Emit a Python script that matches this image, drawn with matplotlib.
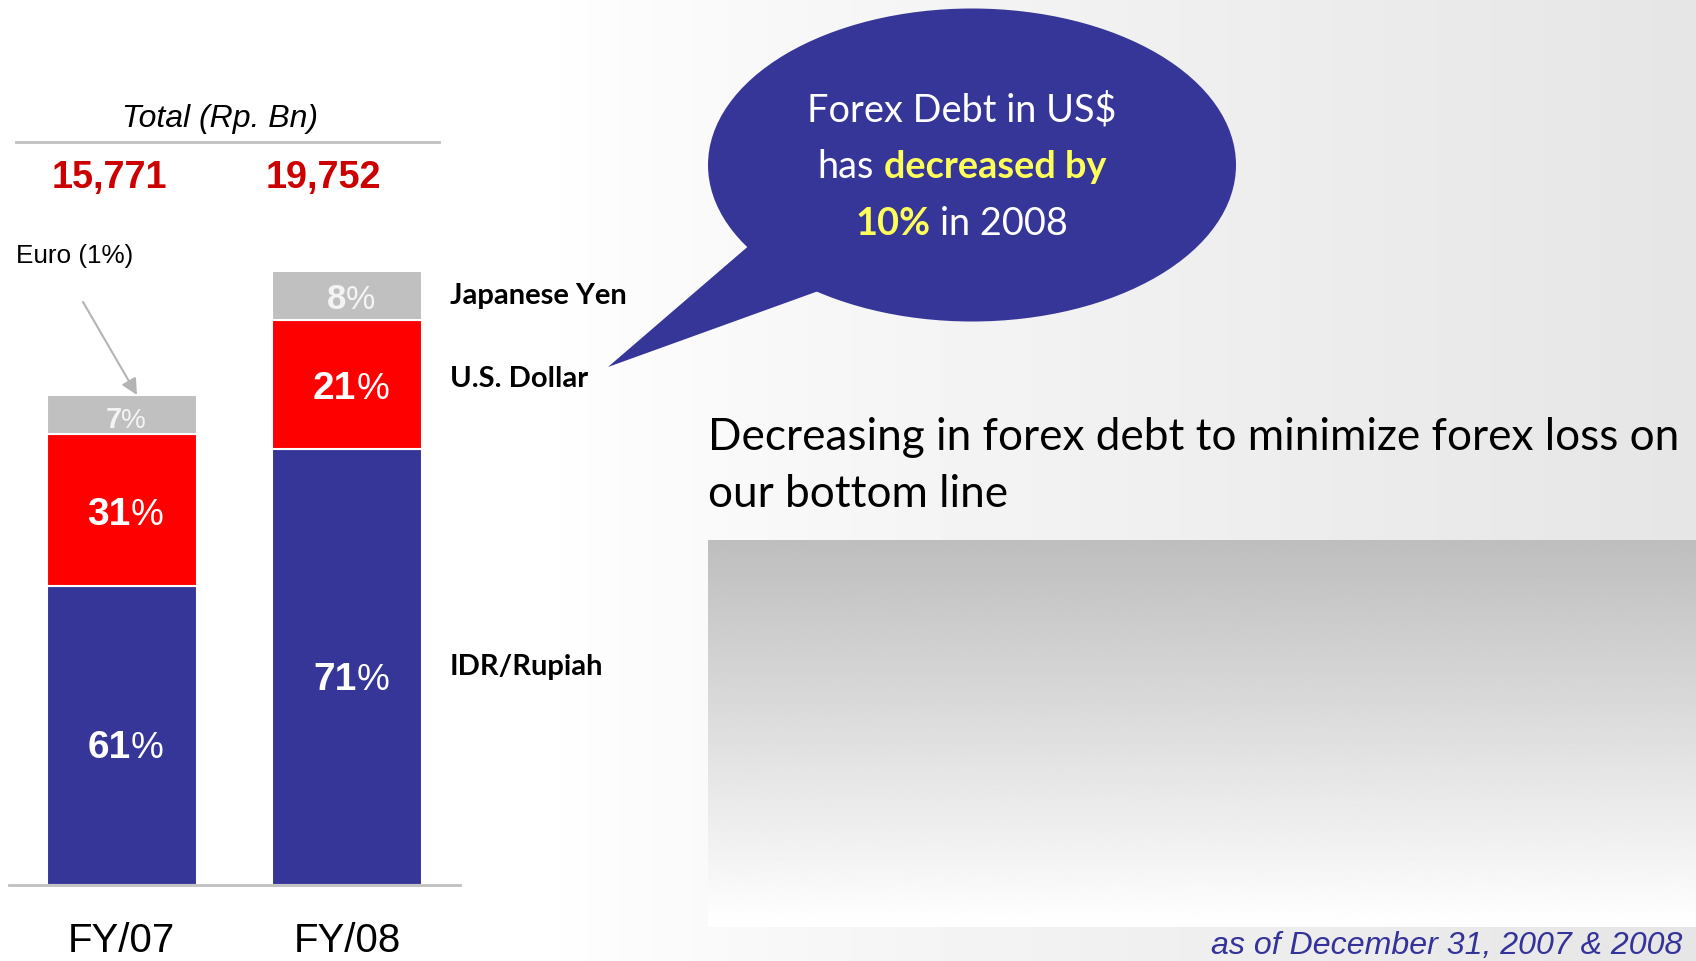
import numpy as np
import matplotlib
matplotlib.use('Agg')
import matplotlib.pyplot as plt
from matplotlib.patches import Ellipse, Polygon

# data
years = ['FY/07', 'FY/08']
totals = [15771, 19752]          # Rp. Bn
idr_pct = [61, 71]
usd_pct = [31, 21]
jpy_pct = [7, 8]
euro_pct = [1, 0]
total_labels = ['15,771', '19,752']
series_names = ['Japanese Yen', 'U.S. Dollar', 'IDR/Rupiah']

BLUE = '#363699'
RED = '#ff0000'
GREY = '#c0c0c0'
YELLOW = '#ffff59'
CAL = ['Lato', 'DejaVu Sans']
ARIAL = ['Liberation Sans', 'DejaVu Sans']

W, H = 1696, 962
fig = plt.figure(figsize=(W / 100, H / 100), dpi=100)
renderer = fig.canvas.get_renderer()

# background layer (pixel coords, y down)
bg = fig.add_axes([0, 0, 1, 1])
xs = np.linspace(0, W, 400)
shade = 1 - 0.10 * np.clip((xs - 540) / 1150, 0, 1) ** 0.8
bg.imshow(np.tile(shade, (10, 1)), cmap='gray', vmin=0, vmax=1,
          extent=(0, W, H, 0), aspect='auto', interpolation='bilinear', zorder=0)
box = np.linspace(0.745, 1.0, 200)[:, None]
bg.imshow(box, cmap='gray', vmin=0, vmax=1, extent=(708, W, 928, 541),
          aspect='auto', interpolation='bilinear', zorder=1)
bg.add_patch(Ellipse((972, 166), 528, 313, fc=BLUE, ec='none', zorder=2))
bg.add_patch(Polygon([(752, 244), (608, 368), (824, 290), (800, 240)],
                     closed=True, fc=BLUE, ec='none', zorder=2))
bg.set_xlim(0, W)
bg.set_ylim(H, 0)
bg.axis('off')

# bar chart
ax = fig.add_axes([9 / W, (H - 886) / H, (460 - 9) / W, 777.5 / H])
ax.patch.set_alpha(0)
x = np.arange(len(years))
idr = np.array(totals) * np.array(idr_pct) / 100
usd = np.array(totals) * np.array(usd_pct) / 100
jpy = np.array(totals) * np.array(jpy_pct) / 100
eur = np.array(totals) * np.array(euro_pct) / 100
bw = 0.665
ax.bar(x, idr, width=bw, color=BLUE, edgecolor='white', linewidth=1.5)
ax.bar(x, usd, width=bw, bottom=idr, color=RED, edgecolor='white', linewidth=1.5)
# yen and the thin euro slice share the grey block
ax.bar(x, jpy + eur, width=bw, bottom=idr + usd, color=GREY, edgecolor='white', linewidth=1.5)
ax.set_xlim(-0.5, 1.5)
ax.set_ylim(0, 25000)
for s in ['top', 'left', 'right']:
    ax.spines[s].set_visible(False)
ax.spines['bottom'].set_color(GREY)
ax.spines['bottom'].set_linewidth(2)
ax.set_yticks([])
ax.set_xticks(x)
ax.set_xticklabels(years, fontsize=29, family=ARIAL)
ax.tick_params(axis='x', length=0, pad=26)

# overlay layer for text
ov = fig.add_axes([0, 0, 1, 1])
ov.set_xlim(0, W)
ov.set_ylim(H, 0)
ov.axis('off')
ov.patch.set_alpha(0)


def measure(s, **kw):
    t = ov.text(0, 0, s, **kw)
    w = t.get_window_extent(renderer).width
    t.remove()
    return w


def fit(s, width, **kw):
    return 20 * width / measure(s, fontsize=20, **kw)


def rich(xc, base, runs, space=True):
    widths = [measure(s, **kw) for s, kw in runs]
    kw0 = runs[0][1]
    gap = measure('a a', **kw0) - measure('aa', **kw0) if space else 0
    total = sum(widths) + gap * (len(runs) - 1)
    xx = xc - total / 2
    for (s, kw), w in zip(runs, widths):
        ov.text(xx, base, s, ha='left', va='baseline', **kw)
        xx += w + gap


def to_px(xd, yd):
    return ov.transData.inverted().transform(ax.transData.transform((xd, yd)))


# header
ov.text(220, 119, 'Total (Rp. Bn)', ha='center', va='center', style='italic',
        family=ARIAL, fontsize=fit('Total (Rp. Bn)', 196, style='italic', family=ARIAL))
ov.plot([16, 439], [143, 143], color=GREY, lw=2)
tsize = fit(total_labels[0], 116, weight='bold', family=ARIAL)
for xi, lab, dx in zip(x, total_labels, [-12, -24]):
    px = to_px(xi, 0)[0]
    ov.text(px + dx, 178, lab, ha='center', va='center', weight='bold',
            color='#cc0000', family=ARIAL, fontsize=tsize)

# euro annotation
ov.text(16, 256, 'Euro (1%)', ha='left', va='center', family=ARIAL,
        fontsize=fit('Euro (1%)', 118, family=ARIAL))
ov.annotate('', xy=(137, 396), xytext=(83, 303),
            arrowprops=dict(arrowstyle='-|>', color='#b4b4b4', lw=1.5,
                            mutation_scale=24, shrinkA=0, shrinkB=0))

# segment labels (bold number, regular percent sign)
segs = [(idr_pct, np.zeros(2), idr, 'white', [28, 28], 8),
        (usd_pct, idr, usd, 'white', [28, 28], 0),
        (jpy_pct, idr + usd, jpy, '#f4f4f4', [21, 25], 0)]
for pcts, bottoms, heights, col, sizes, dy in segs:
    for xi, p, b, h, fs in zip(x, pcts, bottoms, heights, sizes):
        cx, cy = to_px(xi, b + h / 2)
        base = cy + dy + 0.716 * fs * 100 / 72 / 2
        rich(cx + 4, base, [(str(p), dict(weight='bold', color=col, family=ARIAL, fontsize=fs)),
                            ('%', dict(color=col, family=ARIAL, fontsize=fs * 0.95))], space=False)

# series names
nsize = fit(series_names[0], 177, weight='bold', family=CAL)
for name, yy in zip(series_names, [296, 379, 667]):
    ov.text(450, yy, name, ha='left', va='center', weight='bold', family=CAL, fontsize=nsize)

# bubble text
bsize = fit('Forex Debt in US$', 309, family=CAL)
rich(962, 121, [('Forex Debt in US$', dict(color='white', family=CAL, fontsize=bsize))])
rich(962, 178, [('has', dict(color='white', family=CAL, fontsize=bsize)),
                ('decreased by', dict(color=YELLOW, weight='bold', family=CAL, fontsize=bsize))])
rich(962, 235, [('10%', dict(color=YELLOW, weight='bold', family=CAL, fontsize=bsize)),
                ('in 2008', dict(color='white', family=CAL, fontsize=bsize))])

# comment text
line1 = 'Decreasing in forex debt to minimize forex loss on'
csize = fit(line1, 974, family=CAL)
ov.text(708, 438, line1, ha='left', va='center', family=CAL, fontsize=csize)
ov.text(708, 495, 'our bottom line', ha='left', va='center', family=CAL, fontsize=csize)

# footnote
note = 'as of December 31, 2007 & 2008'
NARROW = ['Liberation Sans Narrow', 'Liberation Sans', 'DejaVu Sans']
ov.text(1682, 946, note, ha='right', va='center', style='italic', color='#333399',
        family=NARROW, fontsize=fit(note, 470, style='italic', family=NARROW))

fig.savefig('out.png', dpi=100)
